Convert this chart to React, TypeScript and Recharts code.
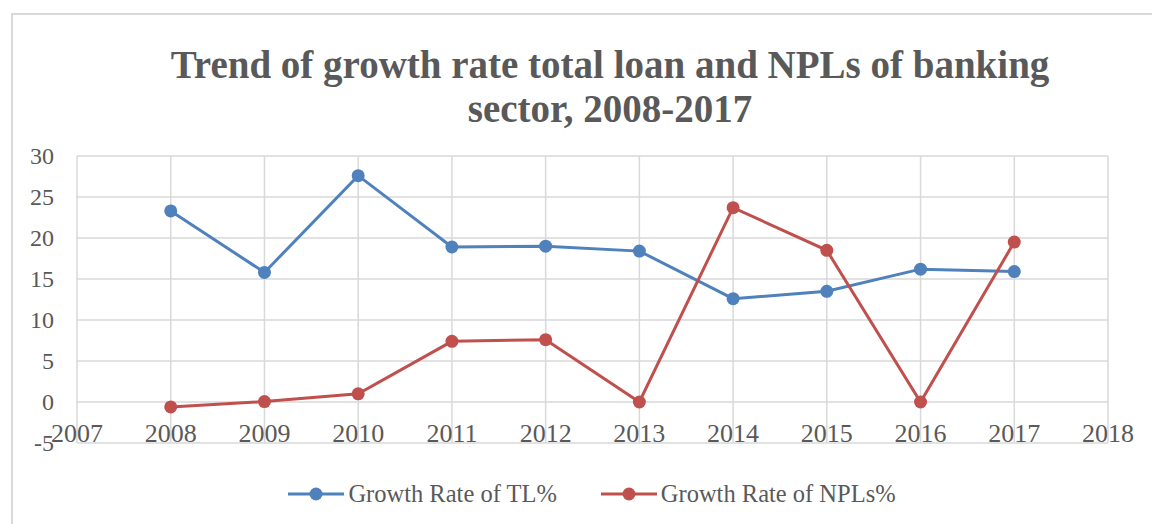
import React from "react";
import {
  LineChart,
  Line,
  XAxis,
  YAxis,
  CartesianGrid,
  Legend,
} from "recharts";

// ---------------------------------------------------------------------------
// Data
// ---------------------------------------------------------------------------

const YEARS = [2008, 2009, 2010, 2011, 2012, 2013, 2014, 2015, 2016, 2017];
const GROWTH_TL = [23.3, 15.8, 27.6, 18.9, 19.0, 18.4, 12.6, 13.5, 16.2, 15.9];
const GROWTH_NPL = [-0.6, 0.05, 1.0, 7.4, 7.6, 0.0, 23.7, 18.5, 0.0, 19.5];

const X_TICKS = [2007, 2008, 2009, 2010, 2011, 2012, 2013, 2014, 2015, 2016, 2017, 2018];
const Y_TICKS = [-5, 0, 5, 10, 15, 20, 25, 30];

const SERIES = [
  { key: "tl", name: "Growth Rate of TL%", color: "#4F81BD" },
  { key: "npl", name: "Growth Rate of NPLs%", color: "#C0504D" },
];

const TEXT = "#595959";
const GRID = "#D9D9D9";
const FONT = "'Liberation Serif', 'Times New Roman', serif";

const chartData = YEARS.map((year, i) => ({
  year,
  tl: GROWTH_TL[i],
  npl: GROWTH_NPL[i],
}));

// ---------------------------------------------------------------------------
// Ticks / legend
// ---------------------------------------------------------------------------

function YTick({ x, y, payload }: any) {
  return (
    <text
      x={x}
      y={y + 8}
      textAnchor="end"
      fill={TEXT}
      fontSize={24}
      fontFamily={FONT}
    >
      {payload.value}
    </text>
  );
}

// Excel puts the year labels against the zero line, so they sit inside the
// bottom band of the plot rather than under it.
function XTick({ x, y, payload }: any) {
  return (
    <text
      x={x}
      y={y - 1}
      textAnchor="middle"
      fill={TEXT}
      fontSize={26}
      fontFamily={FONT}
    >
      {payload.value}
    </text>
  );
}

function LegendContent() {
  return (
    <div
      style={{
        display: "flex",
        justifyContent: "center",
        alignItems: "center",
        gap: 44,
        fontFamily: FONT,
        fontSize: 24.5,
        color: TEXT,
      }}
    >
      {SERIES.map((s) => (
        <div key={s.key} style={{ display: "flex", alignItems: "center" }}>
          <svg width={56} height={16} style={{ marginRight: 4 }}>
            <line x1={0} y1={8} x2={56} y2={8} stroke={s.color} strokeWidth={3} />
            <circle cx={28} cy={8} r={6.5} fill={s.color} />
          </svg>
          <span>{s.name}</span>
        </div>
      ))}
    </div>
  );
}

// ---------------------------------------------------------------------------
// Component
// ---------------------------------------------------------------------------

export default function App() {
  return (
    <div
      style={{
        position: "absolute",
        left: 0,
        top: 0,
        width: 1152,
        height: 524,
        overflow: "hidden",
        background: "#fff",
      }}
    >
      <div
        style={{
          position: "absolute",
          left: 11,
          top: 13,
          width: 1300,
          height: 700,
          border: `2px solid ${GRID}`,
        }}
      />
      <div
        style={{
          position: "absolute",
          left: 60,
          width: 1100,
          top: 43,
          textAlign: "center",
          fontFamily: FONT,
          fontWeight: "bold",
          fontSize: 39,
          lineHeight: "44px",
          color: TEXT,
        }}
      >
        Trend of growth rate total loan and NPLs of banking
        <br />
        sector, 2008-2017
      </div>
      <div style={{ position: "absolute", left: 0, top: 0 }}>
        <LineChart
          width={1152}
          height={524}
          data={chartData}
          margin={{ top: 156, right: 44, bottom: 51, left: 0 }}
        >
          <CartesianGrid stroke={GRID} strokeWidth={1.5} />
          <XAxis
            dataKey="year"
            type="number"
            domain={[2007, 2018]}
            ticks={X_TICKS}
            height={30}
            axisLine={false}
            tickLine={false}
            tickSize={0}
            tickMargin={0}
            interval={0}
            tick={<XTick />}
          />
          <YAxis
            type="number"
            domain={[-5, 30]}
            ticks={Y_TICKS}
            width={77}
            axisLine={false}
            tickLine={false}
            tickSize={0}
            tickMargin={23}
            interval={0}
            tick={<YTick />}
          />
          <Legend
            verticalAlign="middle"
            layout="horizontal"
            align="center"
            wrapperStyle={{ top: 480, left: 32, width: 1120 }}
            content={<LegendContent />}
          />
          {SERIES.map((s) => (
            <Line
              key={s.key}
              dataKey={s.key}
              name={s.name}
              stroke={s.color}
              strokeWidth={3}
              dot={{ r: 6.5, fill: s.color, stroke: s.color, strokeWidth: 0 }}
              isAnimationActive={false}
            />
          ))}
        </LineChart>
      </div>
    </div>
  );
}
